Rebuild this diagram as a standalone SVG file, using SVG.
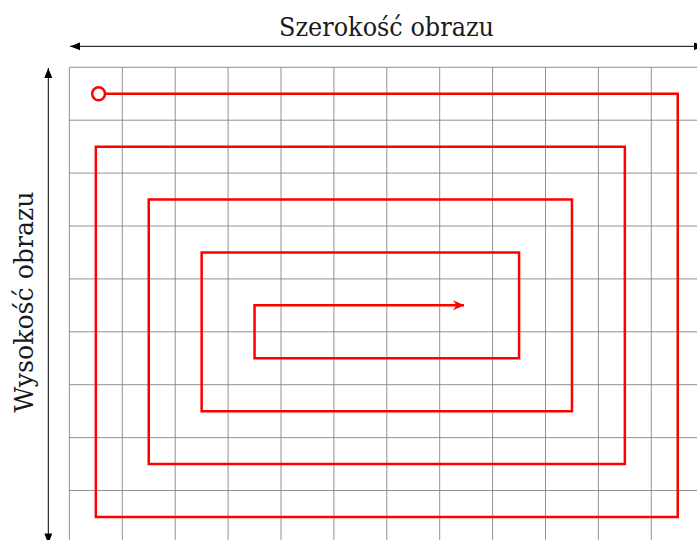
<svg xmlns="http://www.w3.org/2000/svg" width="697" height="540" viewBox="0 0 697 540">
<style>
.grid line{stroke:#7f7f7f;stroke-width:1;stroke-opacity:0.85}
.dim{stroke:#000;stroke-width:1;fill:none}
.spiral{stroke:#ff0000;stroke-width:2.5;fill:none;stroke-linejoin:miter}
</style>
<defs>
<marker id="blk" markerUnits="userSpaceOnUse" markerWidth="12" markerHeight="10" viewBox="-10 -5 12 10" refX="0" refY="0" orient="auto-start-reverse">
<path d="M0,0 C-3,-1 -7,-3 -10,-3.9 L-10,3.9 C-7,3 -3,1 0,0 Z" fill="#000"/>
</marker>
<marker id="red" markerUnits="userSpaceOnUse" markerWidth="14" markerHeight="12" viewBox="-12 -6 14 12" refX="0" refY="0" orient="auto">
<path d="M0.5,0 L-11,-5 L-7.5,0 L-11,5 Z" fill="#ff0000"/>
</marker>
</defs>
<g id="grid" class="grid">
<line x1="69.4" y1="67.3" x2="69.4" y2="540"/>
<line x1="122.3" y1="67.3" x2="122.3" y2="540"/>
<line x1="175.2" y1="67.3" x2="175.2" y2="540"/>
<line x1="228.1" y1="67.3" x2="228.1" y2="540"/>
<line x1="281" y1="67.3" x2="281" y2="540"/>
<line x1="333.9" y1="67.3" x2="333.9" y2="540"/>
<line x1="386.8" y1="67.3" x2="386.8" y2="540"/>
<line x1="439.7" y1="67.3" x2="439.7" y2="540"/>
<line x1="492.6" y1="67.3" x2="492.6" y2="540"/>
<line x1="545.5" y1="67.3" x2="545.5" y2="540"/>
<line x1="598.4" y1="67.3" x2="598.4" y2="540"/>
<line x1="651.3" y1="67.3" x2="651.3" y2="540"/>
<line x1="69.4" y1="67.3" x2="697" y2="67.3"/>
<line x1="69.4" y1="120.2" x2="697" y2="120.2"/>
<line x1="69.4" y1="173.1" x2="697" y2="173.1"/>
<line x1="69.4" y1="226" x2="697" y2="226"/>
<line x1="69.4" y1="278.9" x2="697" y2="278.9"/>
<line x1="69.4" y1="331.8" x2="697" y2="331.8"/>
<line x1="69.4" y1="384.7" x2="697" y2="384.7"/>
<line x1="69.4" y1="437.6" x2="697" y2="437.6"/>
<line x1="69.4" y1="490.5" x2="697" y2="490.5"/>
</g>
<g id="connectors">
<line id="width-arrow" class="dim" x1="70" y1="46.3" x2="704" y2="46.3" marker-start="url(#blk)" marker-end="url(#blk)"/>
<line id="height-arrow" class="dim" x1="48.3" y1="68" x2="48.3" y2="543.4" marker-start="url(#blk)" marker-end="url(#blk)"/>
<path id="spiral" class="spiral" d="M105.4,93.75 H677.75 V516.95 H95.85 V146.65 H624.85 V464.05 H148.75 V199.55 H571.95 V411.15 H201.65 V252.45 H519.05 V358.25 H254.55 V305.35 H464" marker-end="url(#red)"/>
</g>
<g id="start">
<circle cx="98.6" cy="93.75" r="6.4" fill="#fff" stroke="#ff0000" stroke-width="2.5"/>
</g>
<g id="label-width">
<text font-family="'DejaVu Serif', 'Liberation Serif', 'Times New Roman', serif" font-size="26" fill="#1a1a1a" x="386.5" y="35.7" text-anchor="middle" textLength="215" lengthAdjust="spacingAndGlyphs">Szerokość obrazu</text>
</g>
<g id="label-height">
<text font-family="'DejaVu Serif', 'Liberation Serif', 'Times New Roman', serif" font-size="26" fill="#1a1a1a" transform="translate(32.5,302) rotate(-90)" x="0" y="0" text-anchor="middle" textLength="221" lengthAdjust="spacingAndGlyphs">Wysokość obrazu</text>
</g>
</svg>
